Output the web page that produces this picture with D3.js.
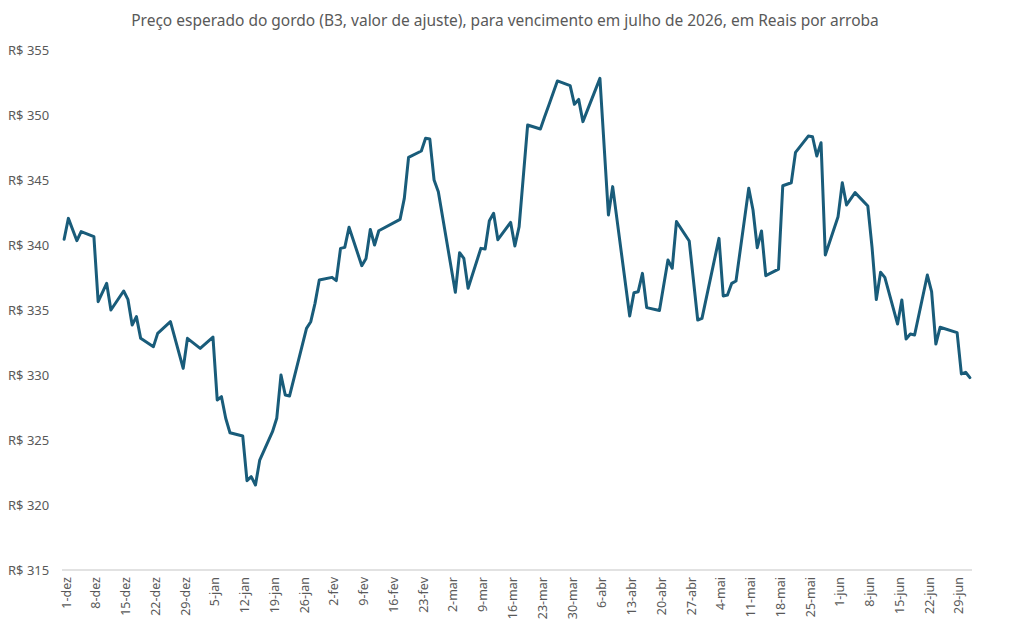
<!DOCTYPE html>
<html>
<head>
<meta charset="utf-8">
<script src="https://cdn.jsdelivr.net/npm/d3@7"></script>
<style>
  body { margin: 0; background: #fff; }
  text { font-family: "Noto Sans", "Open Sans", sans-serif; fill: #595959; }
</style>
</head>
<body>
<div id="chart"></div>
<script>
// Data (trading days, price in R$/@)
const dates = [
  '2025-12-01','2025-12-02','2025-12-04','2025-12-05','2025-12-08','2025-12-09','2025-12-11','2025-12-12',
  '2025-12-15','2025-12-16','2025-12-17','2025-12-18','2025-12-19','2025-12-22','2025-12-23','2025-12-26',
  '2025-12-29','2025-12-30','2026-01-02','2026-01-05','2026-01-06','2026-01-07','2026-01-08','2026-01-09',
  '2026-01-12','2026-01-13','2026-01-14','2026-01-15','2026-01-16','2026-01-19','2026-01-20','2026-01-21',
  '2026-01-22','2026-01-23','2026-01-27','2026-01-28','2026-01-29','2026-01-30','2026-02-02','2026-02-03',
  '2026-02-04','2026-02-05','2026-02-06','2026-02-09','2026-02-10','2026-02-11','2026-02-12','2026-02-13',
  '2026-02-18','2026-02-19','2026-02-20','2026-02-23','2026-02-24','2026-02-25','2026-02-26','2026-02-27',
  '2026-03-03','2026-03-04','2026-03-05','2026-03-06','2026-03-09','2026-03-10','2026-03-11','2026-03-12',
  '2026-03-13','2026-03-16','2026-03-17','2026-03-18','2026-03-20','2026-03-23','2026-03-24','2026-03-25',
  '2026-03-27','2026-03-30','2026-03-31','2026-04-01','2026-04-02','2026-04-06','2026-04-08','2026-04-09',
  '2026-04-13','2026-04-14','2026-04-15','2026-04-16','2026-04-17','2026-04-20','2026-04-22','2026-04-23',
  '2026-04-24','2026-04-27','2026-04-29','2026-04-30','2026-05-04','2026-05-05','2026-05-06','2026-05-07',
  '2026-05-08','2026-05-11','2026-05-12','2026-05-13','2026-05-14','2026-05-15','2026-05-18','2026-05-19',
  '2026-05-21','2026-05-22','2026-05-25','2026-05-26','2026-05-27','2026-05-28','2026-05-29','2026-06-01',
  '2026-06-02','2026-06-03','2026-06-05','2026-06-08','2026-06-09','2026-06-10','2026-06-11','2026-06-12',
  '2026-06-15','2026-06-16','2026-06-17','2026-06-18','2026-06-19','2026-06-22','2026-06-23','2026-06-24',
  '2026-06-25','2026-06-29','2026-06-30','2026-07-01','2026-07-02'
];
const prices = [
  340.44,342.05,340.33,341.03,340.64,335.64,337.05,335.00,
  336.46,335.82,333.85,334.49,332.82,332.18,333.20,334.10,
  330.51,332.82,332.05,332.92,328.08,328.33,326.67,325.56,
  325.31,321.87,322.18,321.54,323.46,325.64,326.67,330.00,
  328.46,328.38,333.59,334.10,335.51,337.31,337.51,337.26,
  339.74,339.82,341.36,338.41,338.97,341.20,340.00,341.10,
  341.97,343.59,346.74,347.23,348.21,348.15,345.00,344.10,
  336.36,339.41,338.97,336.67,339.74,339.69,341.87,342.44,
  340.41,341.74,339.92,341.41,349.23,348.92,349.87,350.77,
  352.62,352.26,350.82,351.20,349.49,352.82,342.31,344.49,
  334.54,336.33,336.41,337.82,335.18,334.96,338.85,338.21,
  341.80,340.31,334.23,334.36,340.51,336.08,336.15,337.05,
  337.23,344.36,342.69,339.79,341.08,337.64,338.15,344.56,
  344.79,347.13,348.38,348.33,346.85,347.87,339.23,342.18,
  344.79,343.08,344.03,343.00,339.80,335.80,337.90,337.51,
  333.92,335.77,332.77,333.15,333.08,337.69,336.41,332.38,
  333.67,333.26,330.08,330.21,329.80
];
const yTicks = [315, 320, 325, 330, 335, 340, 345, 350, 355];
const title = 'Preço esperado do gordo (B3, valor de ajuste), para vencimento em julho de 2026, em Reais por arroba';
const monthNames = ['jan','fev','mar','abr','mai','jun','jul','ago','set','out','nov','dez'];

const width = 1011, height = 630;
const margin = { top: 50, right: 39, bottom: 60, left: 62 };
const parse = d3.utcParse('%Y-%m-%d');
const data = dates.map((d, i) => ({ date: parse(d), value: prices[i] }));

const svg = d3.select('#chart').append('svg')
  .attr('width', width)
  .attr('height', height);

// half a day of padding on each side, like a date axis "between tick marks"
const half = 12 * 3600 * 1000;
const first = data[0].date, last = data[data.length - 1].date;
const x = d3.scaleUtc()
  .domain([new Date(+first - half), new Date(+last + half)])
  .range([margin.left, width - margin.right]);

const y = d3.scaleLinear()
  .domain([315, 355])
  .range([height - margin.bottom, margin.top]);

// Title
svg.append('text')
  .attr('x', 505)
  .attr('y', 26)
  .attr('text-anchor', 'middle')
  .style('font-size', '15.5px')
  .text(title);

// Y labels (no gridlines)
svg.append('g').selectAll('text')
  .data(yTicks)
  .join('text')
  .attr('x', 8)
  .attr('y', d => y(d))
  .attr('dy', '0.35em')
  .style('font-size', '13px')
  .text(d => 'R$ ' + d);

// X axis baseline
svg.append('line')
  .attr('x1', x.range()[0])
  .attr('x2', x.range()[1])
  .attr('y1', y(315))
  .attr('y2', y(315))
  .attr('stroke', '#d9d9d9')
  .attr('stroke-width', 1.3);

// Weekly tick labels starting from the first date
const weeks = d3.utcDay.range(first, last, 7);
svg.append('g').selectAll('text')
  .data(weeks)
  .join('text')
  .attr('transform', d => `translate(${x(d) + 2},${y(315) + 7}) rotate(-90)`)
  .attr('text-anchor', 'end')
  .attr('dy', '0.35em')
  .style('font-size', '12.5px')
  .text(d => d.getUTCDate() + '-' + monthNames[d.getUTCMonth()]);

// Price line
const line = d3.line()
  .x(d => x(d.date))
  .y(d => y(d.value));

svg.append('path')
  .datum(data)
  .attr('fill', 'none')
  .attr('stroke', '#195c7a')
  .attr('stroke-width', 3)
  .attr('stroke-linejoin', 'round')
  .attr('stroke-linecap', 'round')
  .attr('d', line);
</script>
</body>
</html>
